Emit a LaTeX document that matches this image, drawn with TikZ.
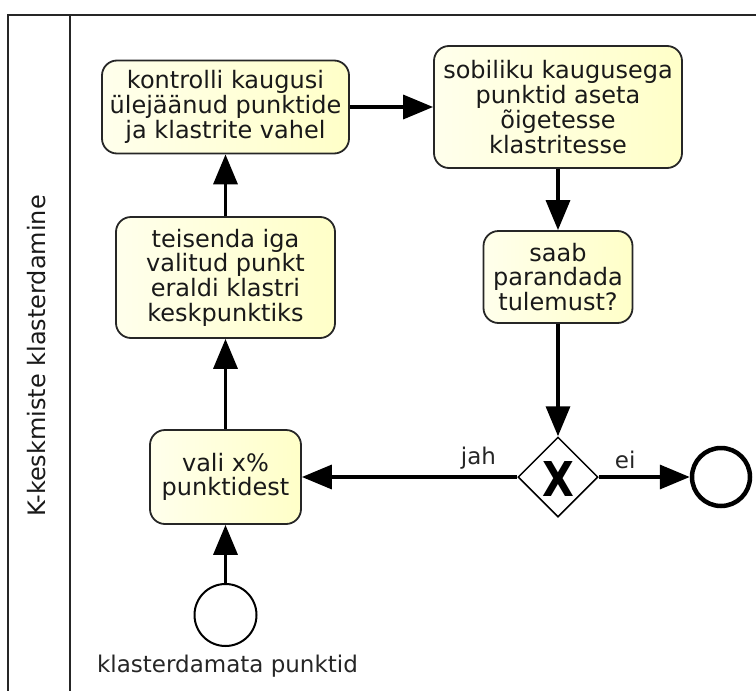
\documentclass[tikz,border=0pt]{standalone}
\usepackage{fontspec}
\setmainfont{DejaVu Sans}
\usetikzlibrary{shapes.geometric,arrows.meta}
\definecolor{tasklight}{HTML}{FFFFEC}
\definecolor{taskdark}{HTML}{FFFFC8}
\begin{document}
\begin{tikzpicture}[x=1pt,y=-1pt,
  pool/.style={draw=black!85, line width=2pt},
  task/.style={draw=black!85, line width=1.8pt, rounded corners=15pt,
    left color=tasklight, right color=taskdark,
    align=center, inner sep=0pt, text=black!90,
    font=\fontsize{24}{24.7}\selectfont},
  gate/.style={draw=black, line width=1.5pt, diamond, aspect=1, fill=white,
    minimum width=80pt, minimum height=80pt, inner sep=0pt},
  startev/.style={draw=black, line width=2pt, circle, fill=white,
    minimum size=62pt, inner sep=0pt},
  endev/.style={draw=black, line width=4.5pt, circle, fill=white,
    minimum size=58pt, inner sep=0pt},
  flow/.style={draw=black, line width=3.5pt,
    -{Triangle[length=30pt,width=24pt]}},
  lbl/.style={font=\fontsize{23}{24}\selectfont, text=black!85, inner sep=1pt}
]
\useasboundingbox (0,0) rectangle (756,691);

% pool and lane
\draw[pool] (756,15) -- (8,15) -- (8,691);
\draw[pool] (70,15) -- (70,691);
\node[rotate=90, font=\fontsize{24}{24}\selectfont, text=black!90] (lane) at (37,356) {K-keskmiste klasterdamine};

% tasks
\node[task, minimum width=247pt, minimum height=93pt] (t1) at (225.5,107)
  {kontrolli kaugusi\\ülejäänud punktide\\ja klastrite vahel};
\node[task, minimum width=219pt, minimum height=121pt] (t2) at (225.5,277.5)
  {teisenda iga\\valitud punkt\\eraldi klastri\\keskpunktiks};
\node[task, minimum width=248pt, minimum height=122pt] (t3) at (558,107)
  {sobiliku kaugusega\\punktid aseta\\õigetesse\\klastritesse};
\node[task, minimum width=149pt, minimum height=92pt] (t4) at (558,277)
  {saab\\parandada\\tulemust?};
\node[task, minimum width=151pt, minimum height=94pt] (t5) at (225.5,477)
  {vali x\%\\punktidest};

% gateway and events
\node[gate] (gw) at (558,477) {};
\node[font=\bfseries\fontsize{48}{48}\selectfont, inner sep=0pt] (gx) at (558.5,478.5) {\scalebox{0.86}[1]{X}};
\node[endev] (end) at (721,477) {};
\node[startev] (start) at (225.5,615) {};
\node[lbl, anchor=base] (slbl) at (227.5,672) {klasterdamata punktid};

% flows
\draw[flow] (t1) -- (t3);
\draw[flow] (t3) -- (t4);
\draw[flow] (t4) -- (gw);
\draw[flow] (gw) -- node[lbl, pos=0.18, above=5pt] (jah) {jah} (t5);
\draw[flow] (gw) -- node[lbl, pos=0.29, above=5pt] (ei) {ei} (end);
\draw[flow] (start) -- (t5);
\draw[flow] (t5) -- (t2);
\draw[flow] (t2) -- (t1);
\end{tikzpicture}
\end{document}
